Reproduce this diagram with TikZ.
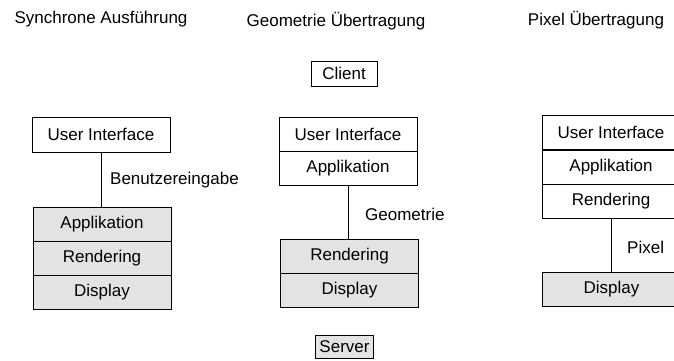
\documentclass[tikz,border=0pt]{standalone}
\usepackage{fontspec}
\setmainfont{Liberation Sans}
\begin{document}
\begin{tikzpicture}[x=1pt,y=-1pt,
  every node/.style={font=\fontsize{17}{20}\selectfont, inner sep=0pt},
  layer/.style={draw=black, line width=0.8pt, minimum width=138pt, minimum height=34pt},
  srv/.style={layer, fill=black!11},
  tag/.style={draw=black, line width=0.8pt, minimum width=66pt, minimum height=25pt},
  conn/.style={draw=black, line width=0.8pt},
  lbl/.style={anchor=west}]
\useasboundingbox (0,0) rectangle (674,360);
\clip (0,0) rectangle (674,360);
% titles
\node (t1) at (101,19) {Synchrone Ausführung};
\node (t2) at (336,21) {Geometrie Übertragung};
\node (t3) at (596,20) {Pixel Übertragung};
% client / server
\node[tag] (client) at (344,73.5) {Client};
\node[tag, fill=black!11, minimum width=58pt, minimum height=23pt] (server) at (344.5,347) {Server};
% left
\node[layer, minimum height=35pt] (ui1) at (101,134.5) {User Interface};
\node[srv] (app1) at (102,224) {Applikation};
\node[srv] (ren1) at (102,258) {Rendering};
\node[srv] (dis1) at (102,292) {Display};
\draw[conn] (ui1.south) -- (ui1.south |- app1.north);
\node[lbl] (l1) at (110,180) {Benutzereingabe};
% middle
\node[layer] (ui2) at (348,134) {User Interface};
\node[layer] (app2) at (348,168) {Applikation};
\node[srv] (ren2) at (349.5,256) {Rendering};
\node[srv] (dis2) at (349.5,290.5) {Display};
\draw[conn] (app2.south) -- (app2.south |- ren2.north);
\node[lbl] (l2) at (365,214) {Geometrie};
% right
\node[layer] (ui3) at (611,132.5) {User Interface};
\node[layer] (app3) at (611,167) {Applikation};
\node[layer] (ren3) at (611,201) {Rendering};
\node[srv] (dis3) at (611.5,289.5) {Display};
\draw[conn] (ren3.south) -- (ren3.south |- dis3.north);
\node[lbl] (l3) at (627,247) {Pixel};
\end{tikzpicture}
\end{document}
